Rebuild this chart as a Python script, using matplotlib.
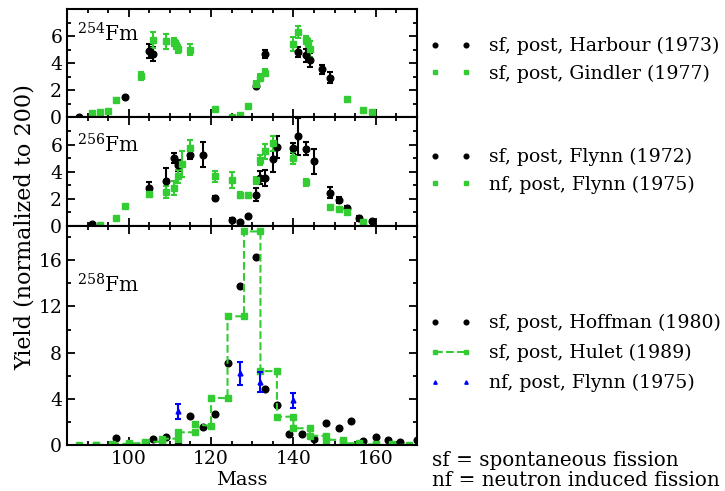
# Fission fragment mass yields for 254Fm, 256Fm and 258Fm
import numpy as np
import matplotlib.pyplot as plt

plt.rcParams['font.family'] = 'DejaVu Serif'
plt.rcParams['mathtext.fontset'] = 'dejavuserif'

green = '#33cc33'

# --- 254Fm ---
harbour_mass = [88, 99, 105, 106, 131, 133, 141, 143, 144, 147, 149]
harbour_yield = [0.05, 1.5, 4.9, 4.7, 2.35, 4.72, 4.85, 4.6, 4.25, 3.55, 2.95]
harbour_err = [0, 0.05, 0.5, 0.55, 0.15, 0.3, 0.4, 0.5, 0.55, 0.3, 0.4]

gindler_mass = [91, 93, 95, 97, 103, 106, 109, 111, 111.5, 112, 115, 121, 125, 127,
                129, 131, 132, 133, 140, 141, 143, 143.5, 144, 153, 157, 159]
gindler_yield = [0.35, 0.4, 0.48, 1.28, 3.1, 5.72, 5.65, 5.6, 5.35, 5.05, 5.02, 0.6, 0.0, 0.17,
                 0.82, 2.5, 2.95, 3.3, 5.45, 6.3, 5.7, 5.5, 5.05, 1.36, 0.53, 0.38]
gindler_err = [0, 0, 0, 0, 0.3, 0.6, 0.55, 0.3, 0.3, 0.3, 0.4, 0, 0, 0,
               0, 0.2, 0.25, 0.25, 0.5, 0.45, 0.3, 0.3, 0.6, 0, 0, 0]

# --- 256Fm ---
flynn72_mass = [91, 105, 109, 111, 112, 115, 118, 121, 125, 127, 129, 131, 132, 133,
                135, 136, 140, 141, 143, 145, 149, 151, 153, 156, 159]
flynn72_yield = [0.1, 2.8, 3.33, 5.0, 4.45, 5.2, 5.26, 2.02, 0.45, 0.25, 0.7, 2.3, 3.55, 3.55,
                 4.95, 5.8, 5.75, 6.6, 5.7, 4.75, 2.45, 1.9, 1.3, 0.55, 0.35]
flynn72_err = [0.05, 0.4, 0.95, 0.35, 0.4, 0.3, 0.9, 0.15, 0.15, 0, 0.1, 0.45, 0.5, 0.6,
               1.0, 0.8, 0.35, 1.35, 0.5, 0.95, 0.4, 0.25, 0.15, 0.2, 0]

flynn75_mass = [93, 97, 99, 105, 109, 111, 112, 113, 115, 121, 125, 127, 129, 131,
                132, 133, 135, 140, 143, 149, 151, 153, 157]
flynn75_yield = [0.05, 0.55, 1.45, 2.35, 2.5, 2.8, 3.65, 4.55, 5.75, 3.65, 3.4, 2.3, 2.25, 3.35,
                 4.85, 5.5, 6.1, 5.0, 3.2, 1.4, 1.25, 1.0, 0.3]
flynn75_err = [0, 0, 0, 0.25, 0.45, 0.5, 0.5, 0.95, 0.55, 0.4, 0.6, 0.2, 0.15, 0.25,
               0.4, 0.55, 0.55, 0.45, 0.25, 0, 0, 0, 0]

# --- 258Fm ---
hoffman_mass = [97, 106, 109, 112, 115, 118, 121, 124, 127, 131, 133, 136, 139, 142,
                145, 148, 151, 154, 157, 160, 163, 166, 170]
hoffman_yield = [0.64, 0.56, 0.73, 0.0, 2.49, 1.52, 2.72, 7.1, 13.8, 16.3, 4.88, 3.48, 0.94, 0.99,
                 0.56, 1.9, 1.46, 2.1, 0.38, 0.67, 0.44, 0.23, 0.4]

hulet_mass = [88, 92, 92, 96, 96, 100, 100, 104, 104, 108, 108, 112, 112, 116, 116, 120,
              120, 124, 124, 128, 128, 132, 132, 136, 136, 140, 140, 144, 144, 148, 148, 152,
              152, 156, 156, 160, 160, 164, 164, 168]
hulet_yield = [0, 0, 0, 0, 0.1, 0.1, 0.15, 0.15, 0.28, 0.28, 0.55, 0.55, 1.1, 1.1, 1.8, 1.65,
               4.1, 4.05, 11.15, 11.15, 18.5, 18.5, 6.4, 6.4, 2.45, 2.45, 1.45, 1.45, 0.8, 0.8,
               0.45, 0.45, 0.15, 0.15, 0.05, 0.05, 0.0, 0.0, 0.05, 0.0]

flynn75n_mass = [112, 127, 132, 140]
flynn75n_yield = [2.92, 6.2, 5.47, 3.86]
flynn75n_err = [0.65, 1.0, 0.88, 0.67]

fig = plt.figure(figsize=(7.25, 4.91), dpi=100)
gs = fig.add_gridspec(3, 1, height_ratios=[108, 108, 219], hspace=0,
                      left=0.0924, right=0.575, top=0.981, bottom=0.0937)
ax1 = fig.add_subplot(gs[0])
ax2 = fig.add_subplot(gs[1], sharex=ax1)
ax3 = fig.add_subplot(gs[2], sharex=ax1)

ebkw = dict(linestyle='none', capsize=2.5, elinewidth=1.5, capthick=1.5)

h1 = ax1.errorbar(harbour_mass, harbour_yield, yerr=harbour_err, fmt='o', color='black',
                  ms=4.8, **ebkw)
h2 = ax1.errorbar(gindler_mass, gindler_yield, yerr=gindler_err, fmt='s', color=green,
                  ms=5, **ebkw)

h3 = ax2.errorbar(flynn72_mass, flynn72_yield, yerr=flynn72_err, fmt='o', color='black',
                  ms=4.8, **ebkw)
h4 = ax2.errorbar(flynn75_mass, flynn75_yield, yerr=flynn75_err, fmt='s', color=green,
                  ms=5, **ebkw)

h5, = ax3.plot(hoffman_mass, hoffman_yield, 'o', color='black', ms=4.8)
h6, = ax3.plot(hulet_mass, hulet_yield, 's--', color=green, ms=5, lw=1.5)
h7 = ax3.errorbar(flynn75n_mass, flynn75n_yield, yerr=flynn75n_err, fmt='^', color='blue',
                  ms=3.5, **ebkw)

for ax in (ax1, ax2):
    ax.set_ylim(0, 8)
    ax.set_yticks([0, 2, 4, 6])
    ax.set_yticks([1, 3, 5, 7], minor=True)
    ax.tick_params(labelbottom=False)
ax3.set_ylim(0, 19)
ax3.set_yticks([0, 4, 8, 12, 16])
ax3.set_yticks([2, 6, 10, 14, 18], minor=True)

ax1.set_xlim(85, 170)
ax3.set_xticks([100, 120, 140, 160])
ax3.set_xticks(np.arange(90, 171, 5), minor=True)
ax3.set_xlabel('Mass', fontsize=14, labelpad=2)

for ax, iso, yb in ((ax1, 254, 0.70), (ax2, 256, 0.672), (ax3, 258, 0.693)):
    for s in ax.spines.values():
        s.set_linewidth(1.5)
    ax.tick_params(which='both', direction='in', top=True, right=True,
                   labelsize=13.5, width=1.3)
    ax.tick_params(which='major', length=6)
    ax.tick_params(which='minor', length=3)
    ax.text(0.03, yb, r'$^{%d}$Fm' % iso, transform=ax.transAxes,
            fontsize=14.5, va='baseline', ha='left')

legkw = dict(loc='center left', frameon=False, numpoints=2, fontsize=13.6,
             handlelength=2.2, handletextpad=0.95, borderpad=0, borderaxespad=0,
             markerscale=0.7, bbox_transform=fig.transFigure)
ax1.legend([h1[0], h2[0]], ['sf, post, Harbour (1973)', 'sf, post, Gindler (1977)'],
           bbox_to_anchor=(0.5926, 0.878), labelspacing=0.5, **legkw)
ax2.legend([h3[0], h4[0]], ['sf, post, Flynn (1972)', 'nf, post, Flynn (1975)'],
           bbox_to_anchor=(0.5926, 0.652), labelspacing=0.5, **legkw)
ax3.legend([h5, h6, h7[0]],
           ['sf, post, Hoffman (1980)', 'sf, post, Hulet (1989)', 'nf, post, Flynn (1975)'],
           bbox_to_anchor=(0.5926, 0.281), labelspacing=0.62, **legkw)

fig.text(0.034, 0.537, 'Yield (normalized to 200)', rotation=90, fontsize=16,
         ha='center', va='center')
fig.text(0.596, 0.063, 'sf = spontaneous fission', fontsize=14.3, va='center')
fig.text(0.596, 0.0204, 'nf = neutron induced fission', fontsize=14.3, va='center')

fig.savefig('out.png', dpi=100)
